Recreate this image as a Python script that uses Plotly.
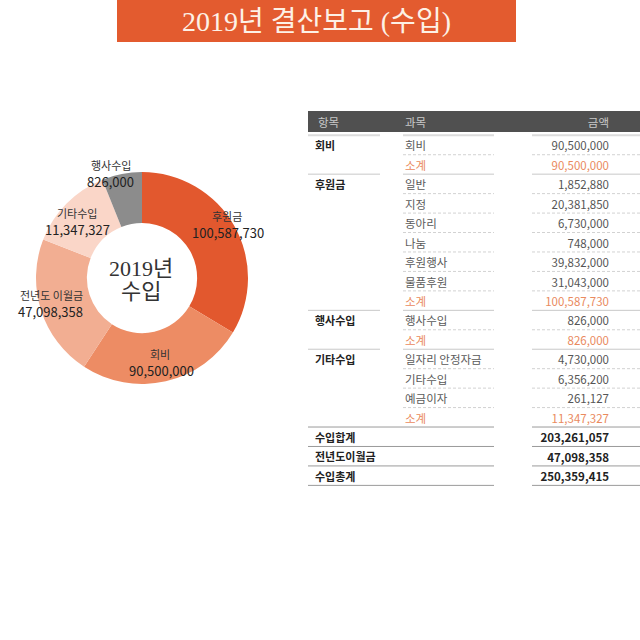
import plotly.graph_objects as go

# ---------------- data ----------------
pie_labels = ["후원금", "회비", "전년도 이월금", "기타수입", "행사수입"]
pie_amounts = [100587730, 90500000, 47098358, 11347327, 826000]
# slice sizes as they are drawn in the reference picture (percent of the ring)
pie_drawn_share = [33.6, 25.6, 21.7, 13.0, 6.1]

header_labels = ["항목", "과목", "금액"]
group_names = ["회비", "후원금", "행사수입", "기타수입"]
group_items = [
    ["회비"],
    ["일반", "지정", "동아리", "나눔", "후원행사", "물품후원"],
    ["행사수입"],
    ["일자리 안정자금", "기타수입", "예금이자"],
]
group_amounts = [
    [90500000],
    [1852880, 20381850, 6730000, 748000, 39832000, 31043000],
    [826000],
    [4730000, 6356200, 261127],
]
subtotal_label = "소계"
total_labels = ["수입합계", "전년도이월금", "수입총계"]
carryover_amount = 47098358

title_text = "2019년 결산보고 (수입)"
center_lines = ["2019년", "수입"]

# ---------------- styles ----------------
W = H = 640
SANS = "Noto Sans CJK KR, Noto Sans, sans-serif"
SERIF = "Liberation Serif, DejaVu Serif, Noto Sans CJK KR, serif"
ORANGE = "#E35B2F"
SUB_ORANGE = "#EA8A5E"
pie_colors = ["#E2582E", "#ED8C64", "#F2AE92", "#FAD6C8", "#8C8C8C"]

def px_x(v):
    return v / W

def px_y(v):
    return 1 - v / H

# pie geometry (pixels)
PIE_CX, PIE_CY, PIE_R = 142, 278, 106

# table geometry
ROW0_PX, ROW_H = 145, 19.45
Y_MIN, Y_MAX = -2, 20
TXT_DY = 0.13  # small downward nudge so text sits centred in its row
COL1 = (308, 380)
COL2 = (403, 494)
COL3 = (532, 640)
X_COL1_TXT, X_COL2_TXT, X_COL3_TXT = 315, 405, 609

# ---------------- build table rows ----------------
rows = []  # (col1, col2, amount, kind, group_start)
subtotals = []
for g, items, amts in zip(group_names, group_items, group_amounts):
    for k, (it, a) in enumerate(zip(items, amts)):
        rows.append((g if k == 0 else "", it, a, "item", k == 0))
    st = sum(amts)
    subtotals.append(st)
    rows.append(("", subtotal_label, st, "sub", False))
income_total = sum(subtotals)
total_amounts = [income_total, carryover_amount, income_total + carryover_amount]
for lab, a in zip(total_labels, total_amounts):
    rows.append((lab, "", a, "total", True))

fmt = lambda v: f"{v:,}"

fig = go.Figure()

# ---------------- donut ----------------
fig.add_trace(go.Pie(
    labels=pie_labels,
    values=pie_drawn_share,
    customdata=pie_amounts,
    sort=False,
    direction="clockwise",
    rotation=0,
    hole=0.52,
    marker=dict(colors=pie_colors, line=dict(width=0)),
    textinfo="none",
    hoverinfo="skip",
    domain=dict(x=[px_x(PIE_CX - PIE_R), px_x(PIE_CX + PIE_R)],
                y=[px_y(PIE_CY + PIE_R), px_y(PIE_CY - PIE_R)]),
    showlegend=False,
))

# ---------------- table text ----------------
def add_text(xs, yv, texts, pos, color, size=11.5, weight="normal"):
    fig.add_trace(go.Scatter(
        x=xs, y=[v + TXT_DY for v in yv], text=texts, mode="text", textposition=pos,
        textfont=dict(family=SANS, size=size, color=color, weight=weight),
        hoverinfo="skip", showlegend=False, xaxis="x", yaxis="y",
    ))

# header
add_text([X_COL1_TXT + 3, X_COL2_TXT], [-1.2, -1.2], header_labels[:2], "middle right", "#C8C8C8")
add_text([X_COL3_TXT], [-1.2], header_labels[2:], "middle left", "#C8C8C8")

# column 1 (group names + totals labels)
c1 = [(i, r[0]) for i, r in enumerate(rows) if r[0]]
add_text([X_COL1_TXT] * len(c1), [i for i, _ in c1], [t for _, t in c1],
         "middle right", "#222222", size=11, weight="bold")

# column 2
c2i = [(i, r[1]) for i, r in enumerate(rows) if r[3] == "item"]
c2s = [(i, r[1]) for i, r in enumerate(rows) if r[3] == "sub"]
add_text([X_COL2_TXT] * len(c2i), [i for i, _ in c2i], [t for _, t in c2i],
         "middle right", "#5A5A5A", size=11.5)
add_text([X_COL2_TXT] * len(c2s), [i for i, _ in c2s], [t for _, t in c2s],
         "middle right", SUB_ORANGE, size=11.5)

# column 3
v_item = [(i, r[2]) for i, r in enumerate(rows) if r[3] == "item"]
v_sub = [(i, r[2]) for i, r in enumerate(rows) if r[3] == "sub"]
v_tot = [(i, r[2]) for i, r in enumerate(rows) if r[3] == "total"]
add_text([X_COL3_TXT] * len(v_item), [i for i, _ in v_item], [fmt(v) for _, v in v_item],
         "middle left", "#555555", size=11.5)
add_text([X_COL3_TXT] * len(v_sub), [i for i, _ in v_sub], [fmt(v) for _, v in v_sub],
         "middle left", SUB_ORANGE, size=11.5)
add_text([X_COL3_TXT] * len(v_tot), [i for i, _ in v_tot], [fmt(v) for _, v in v_tot],
         "middle left", "#222222", size=11.5, weight="bold")

# ---------------- shapes ----------------
shapes = []
# title banner
shapes.append(dict(type="rect", xref="paper", yref="paper",
                   x0=px_x(117), x1=px_x(516), y0=px_y(42), y1=1,
                   fillcolor=ORANGE, line=dict(width=0), layer="below"))
# header bar
shapes.append(dict(type="rect", xref="x", yref="y", x0=308, x1=640,
                   y0=-1.75, y1=-0.67, fillcolor="#505050", line=dict(width=0), layer="below"))

def seg(x0, x1, y, color, width=1, dash="solid"):
    shapes.append(dict(type="line", xref="x", yref="y", x0=x0, x1=x1, y0=y, y1=y,
                       line=dict(color=color, width=width, dash=dash)))

# line under header
for c in (COL1, COL2, COL3):
    seg(c[0], c[1], -0.5, "#DCDCDC", 2)

for i in range(len(rows)):
    yb = i + 0.5
    nxt = rows[i + 1] if i + 1 < len(rows) else None
    if rows[i][3] == "total" or (nxt is not None and nxt[3] == "total"):
        seg(COL1[0], COL2[1], yb, "#9A9A9A", 1)
        seg(COL3[0], COL3[1], yb, "#9A9A9A", 1)
    elif nxt is not None and nxt[4]:
        for c in (COL1, COL2, COL3):
            seg(c[0], c[1], yb, "#C8C8C8", 1)
    else:
        seg(COL2[0], COL2[1], yb, "#D2D2D2", 1, "3px,2px")
        seg(COL3[0], COL3[1], yb, "#D2D2D2", 1, "3px,2px")

# ---------------- annotations ----------------
ann = []
ann.append(dict(x=px_x(316), y=px_y(21), xref="paper", yref="paper", text=title_text,
                showarrow=False, font=dict(family=SERIF, size=28, color="#FDF1E6"),
                xanchor="center", yanchor="middle"))
for txt, yy in zip(center_lines, [268, 291]):
    ann.append(dict(x=px_x(141), y=px_y(yy), xref="paper", yref="paper", text=txt,
                    showarrow=False, font=dict(family=SERIF, size=22, color="#333333"),
                    xanchor="center", yanchor="middle"))

label_pos = [  # (name x, name y, value x, value y) in pixels
    (227, 216, 228, 232),
    (160, 354, 161, 370),
    (51, 295, 50, 311),
    (77, 213, 77, 229),
    (111, 165, 110, 181),
]
for lab, amt, (nx, ny, vx, vy) in zip(pie_labels, pie_amounts, label_pos):
    ann.append(dict(x=px_x(nx), y=px_y(ny), xref="paper", yref="paper", text=lab,
                    showarrow=False, font=dict(family=SANS, size=11, color="#333333"),
                    xanchor="center", yanchor="middle"))
    ann.append(dict(x=px_x(vx), y=px_y(vy), xref="paper", yref="paper", text=fmt(amt),
                    showarrow=False, font=dict(family=SANS, size=13, color="#222222"),
                    xanchor="center", yanchor="middle"))

y_top_px = ROW0_PX + Y_MIN * ROW_H
y_bot_px = ROW0_PX + Y_MAX * ROW_H

fig.update_layout(
    width=W, height=H,
    margin=dict(l=0, r=0, t=0, b=0),
    paper_bgcolor="white", plot_bgcolor="white",
    showlegend=False,
    xaxis=dict(domain=[0, 1], range=[0, W], visible=False, fixedrange=True),
    yaxis=dict(domain=[px_y(y_bot_px), px_y(y_top_px)], range=[Y_MAX, Y_MIN],
               visible=False, fixedrange=True),
    shapes=shapes,
    annotations=ann,
)

fig.write_html("out.html")
